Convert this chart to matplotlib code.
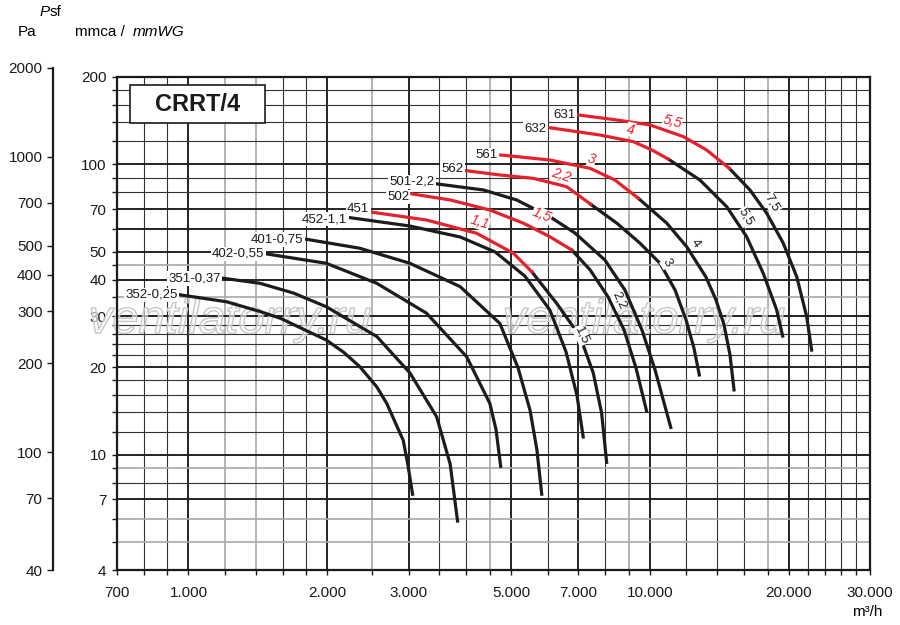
import matplotlib
matplotlib.use('Agg')
import matplotlib.pyplot as plt
import matplotlib.patheffects as pe
from matplotlib.patches import Rectangle
from matplotlib.ticker import NullLocator

plt.rcParams['font.family'] = ['Liberation Sans', 'DejaVu Sans']

# fan curves: flow (m3/h) and static pressure (mmWG)
q_352 = [960, 1210, 1430, 1580, 1990, 2170, 2350, 2560, 2690, 2920, 2990, 3060]
p_352 = [35.5, 33.6, 31.1, 29.5, 24.8, 22.5, 20.1, 17.1, 15.0, 11.2, 9.2, 7.3]
q_351 = [1190, 1430, 1690, 1990, 2560, 3020, 3450, 3690, 3830]
p_351 = [40.5, 38.9, 36.0, 32.3, 25.5, 19.1, 13.5, 9.3, 5.9]
q_402 = [1480, 1990, 2560, 3280, 4010, 4280, 4500, 4640, 4750]
p_402 = [49.1, 45.6, 38.9, 30.7, 21.7, 17.6, 15.0, 12.2, 9.1]
q_401 = [1800, 2350, 3020, 3880, 4730, 5180, 5500, 5690, 5830]
p_401 = [55.2, 51.4, 45.6, 37.9, 28.3, 19.9, 14.2, 10.4, 7.3]
q_452 = [2240, 3020, 3880, 4620, 5360, 6070, 6580, 6950, 7170]
p_452 = [65.5, 61.3, 56.2, 49.9, 41.2, 31.5, 22.6, 16.0, 11.5]
q_451 = [2500, 3280, 4210, 5060, 5550, 6280, 7060, 7540, 7860, 8060]
p_451 = [68.4, 64.3, 57.9, 49.4, 42.6, 33.2, 25.5, 19.1, 13.9, 9.4]
q_501 = [3460, 4360, 5140, 6070, 6880, 7990, 8830, 9610, 10260, 11100]
p_501 = [85.6, 81.6, 75.4, 66.0, 58.0, 46.8, 36.9, 26.9, 19.6, 12.4]
q_502 = [3050, 3690, 4500, 5320, 6070, 6770, 7420, 8120, 8790, 9330, 9840]
p_502 = [79.1, 75.4, 69.6, 62.7, 56.3, 50.7, 43.3, 34.9, 26.9, 19.9, 14.1]
q_562 = [4000, 4730, 5590, 6600, 7440, 8480, 9520, 10520, 11340, 11980, 12460, 12800]
p_562 = [95.1, 91.9, 89.5, 83.8, 72.9, 62.7, 53.5, 45.6, 36.9, 29.1, 23.3, 18.8]
q_561 = [4750, 6070, 7420, 8400, 9440, 10880, 12020, 13230, 13910, 14480, 14920, 15220]
p_561 = [107.7, 103.5, 96.9, 88.3, 76.4, 62.7, 52.0, 40.9, 34.1, 28.0, 22.0, 16.7]
q_632 = [6050, 7800, 9210, 10110, 10960, 12840, 14670, 16210, 17610, 18830, 19400]
p_632 = [133.8, 126.2, 119.7, 112.0, 104.3, 88.3, 71.5, 56.3, 42.1, 31.5, 25.6]
q_631 = [7000, 8480, 10010, 11820, 13280, 14860, 16480, 17920, 19460, 20810, 21870, 22420]
p_631 = [148.0, 142.2, 136.7, 124.6, 112.0, 96.9, 81.6, 67.8, 53.5, 41.0, 29.9, 22.9]

names = ["352-0,25", "351-0,37", "402-0,55", "401-0,75", "452-1,1", "451",
         "501-2,2", "502", "562", "561", "632", "631"]
flows = [q_352, q_351, q_402, q_401, q_452, q_451, q_501, q_502, q_562, q_561, q_632, q_631]
press = [p_352, p_351, p_402, p_401, p_452, p_451, p_501, p_502, p_562, p_561, p_632, p_631]
# number of points on the red (smaller motor) part of each curve
n_red = [0, 0, 0, 0, 0, 5, 0, 6, 5, 5, 5, 6]
# small vertical nudge of the name labels, in points
name_dy = [0, 0, 0, 0, -1, 2.2, 1.5, -2.2, 1, 0, -1.2, 0]

# motor power labels
red_txt = ["1,1", "1,5", "2,2", "3", "4", "5,5"]
red_q = [4280, 5830, 6410, 7480, 9100, 11200]
red_p = [60.4, 63.8, 87.6, 99.5, 126.2, 134.5]
red_rot = [-18, -22, -18, -15, -12, -15]
blk_txt = ["1,5", "2,2", "3", "4", "5,5", "7,5"]
blk_q = [7120, 8570, 10890, 12530, 16160, 18400]
blk_p = [25.8, 34.1, 45.7, 53.6, 65.9, 73.6]
blk_rot = [-65, -65, -58, -55, -60, -60]

x_labels = {700: "700", 1000: "1.000", 2000: "2.000", 3000: "3.000", 5000: "5.000",
            7000: "7.000", 10000: "10.000", 20000: "20.000", 30000: "30.000"}
y_labels = [4, 7, 10, 20, 30, 40, 50, 70, 100, 200]
pa_ticks = [40, 70, 100, 200, 300, 400, 500, 700, 1000, 2000]

x_dark = [1000, 2000, 3000, 5000, 7000, 10000, 20000]
x_thin = [800, 900, 1600, 1800, 3500, 4000, 6000, 8000, 12000, 14000, 16000,
          22000, 24000, 26000, 28000]
x_grey = [1200, 1400, 2500, 4500, 9000, 18000]
y_dark = [7, 10, 20, 30, 40, 50, 60, 70, 100]
y_thin = [8, 12, 14, 16, 18, 22, 24, 26, 28, 80, 90, 120, 140, 160, 180]
y_grey = [5, 6, 9, 35, 45]

RED = '#e4222b'
INK = '#1c1c1c'

fig = plt.figure(figsize=(9, 6.25), dpi=100)
ax = fig.add_axes([117/900, 55/625, 753/900, 493/625])
ax.set_xscale('log')
ax.set_yscale('log')
ax.set_xlim(700, 30000)
ax.set_ylim(4, 200)

for v in x_dark:
    ax.axvline(v, color='#222222', lw=1.4, zorder=1)
for v in x_thin:
    ax.axvline(v, color='#333333', lw=0.8, zorder=1)
for v in x_grey:
    ax.axvline(v, color='#a8a8a8', lw=1.2, zorder=1)
for v in y_dark:
    ax.axhline(v, color='#222222', lw=1.4, zorder=1)
for v in y_thin:
    ax.axhline(v, color='#333333', lw=0.8, zorder=1)
for v in y_grey:
    ax.axhline(v, color='#a8a8a8', lw=1.2, zorder=1)

xt = sorted([700, 30000] + x_dark + x_thin + x_grey)
ax.set_xticks(xt)
ax.set_xticklabels([x_labels.get(v, "") for v in xt])
yt = sorted(set(y_labels + y_dark + y_thin + y_grey))
ax.set_yticks(yt)
ax.set_yticklabels([str(v) if v in y_labels else "" for v in yt])
ax.xaxis.set_minor_locator(NullLocator())
ax.yaxis.set_minor_locator(NullLocator())
ax.tick_params(axis='both', direction='out', length=3.6, width=1, labelsize=11, colors='#1a1a1a')
ax.tick_params(axis='x', pad=8)
ax.tick_params(axis='y', pad=4)
for s in ax.spines.values():
    s.set_linewidth(1.6)
    s.set_color('#1a1a1a')
    s.set_zorder(6)

# watermark
for xc in [230, 644]:
    ax.text(xc/900, 1 - 333/625, 'ventilatorry.ru', transform=fig.transFigure,
            fontsize=34, style='italic', ha='center', va='baseline',
            color=(1, 1, 1, 0.55), zorder=2, clip_on=False,
            path_effects=[pe.Stroke(linewidth=1.0, foreground='#c6c6c6')])

for name, q, p, n, dy in zip(names, flows, press, n_red, name_dy):
    if n:
        ax.plot(q[:n], p[:n], color=RED, lw=2.3, solid_joinstyle='round', zorder=4)
        ax.plot(q[n-1:], p[n-1:], color=INK, lw=2.3, solid_joinstyle='round', zorder=3)
    else:
        ax.plot(q, p, color=INK, lw=2.3, solid_joinstyle='round', zorder=3)
    ax.annotate(name, (q[0], p[0]), xytext=(-2, dy), textcoords='offset points',
                ha='right', va='center', fontsize=9.5, color='#1a1a1a', zorder=5,
                bbox=dict(boxstyle='square,pad=0.1', fc='white', ec='none'))

for t, q, p, r in zip(red_txt, red_q, red_p, red_rot):
    ax.annotate(t, (q, p), xytext=(0, 4), textcoords='offset points',
                color=RED, style='italic', fontsize=10, rotation=r,
                ha='center', va='center', rotation_mode='anchor', zorder=5,
                bbox=dict(boxstyle='square,pad=0.02', fc='white', ec='none'))
for t, q, p, r in zip(blk_txt, blk_q, blk_p, blk_rot):
    ax.text(q, p, t, color='#1a1a1a', fontsize=9.5, rotation=r,
            ha='center', va='center', rotation_mode='anchor', zorder=5,
            bbox=dict(boxstyle='square,pad=0.05', fc='white', ec='none'))

# model box
ax.add_patch(Rectangle((0.0173, 0.9067), 0.1792, 0.0771, transform=ax.transAxes,
                       fc='white', ec='#1a1a1a', lw=1.2, zorder=6))
ax.text(0.1069, 0.9452, 'CRRT/4', transform=ax.transAxes, fontsize=17,
        fontweight='bold', ha='center', va='center', color='#1a1a1a', zorder=7)

# Pa scale on the far left
axp = fig.add_axes([53/900, 55/625, 0.0001, 502/625])
axp.set_yscale('log')
axp.set_ylim(40, 2000)
axp.set_xticks([])
for s in ['top', 'right', 'bottom']:
    axp.spines[s].set_visible(False)
axp.spines['left'].set_linewidth(1.6)
axp.spines['left'].set_color('#1a1a1a')
axp.set_yticks(pa_ticks)
axp.set_yticklabels([str(v) for v in pa_ticks])
axp.yaxis.set_minor_locator(NullLocator())
axp.tick_params(axis='y', direction='out', length=4.5, width=1, pad=3,
                labelsize=11, colors='#1a1a1a')
axp.patch.set_visible(False)

# headers
fig.text(40/900, 1 - 12/625, 'P', style='italic', fontsize=11, va='center')
fig.text(50/900, 1 - 12/625, 'sf', fontsize=11, va='center')
fig.text(18/900, 1 - 32/625, 'Pa', fontsize=11, va='center')
fig.text(75/900, 1 - 32/625, 'mmca /', fontsize=11, va='center')
fig.text(133/900, 1 - 32/625, 'mmWG', style='italic', fontsize=11, va='center')
fig.text(882/900, 1 - 612/625, 'm³/h', fontsize=11, ha='right', va='center')

fig.savefig('out.png', dpi=100, facecolor='white')
